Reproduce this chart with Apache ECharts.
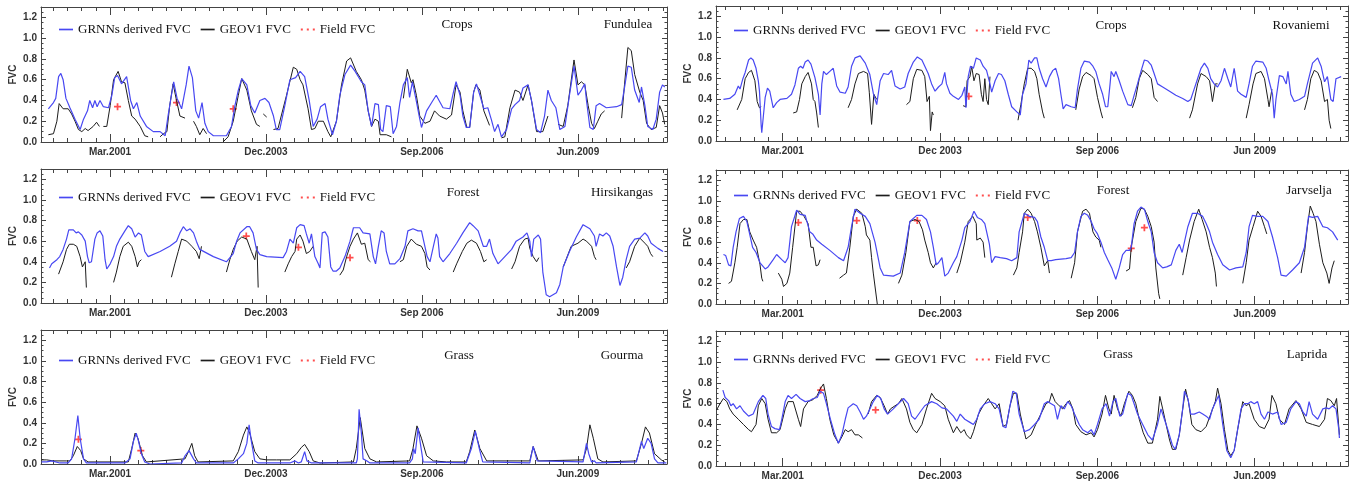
<!DOCTYPE html>
<html>
<head>
<meta charset="utf-8">
<script src="https://cdn.jsdelivr.net/npm/echarts@6/dist/echarts.min.js"></script>
<style>
  html, body { margin: 0; padding: 0; background: #fff; }
  #fvc { width: 1356px; height: 482px; }
</style>
</head>
<body>
<div id="fvc"></div>
<script>
// x = decimal year, y = FVC ; [year, null] breaks a line
const tickDates = [2001.167, 2003.917, 2006.667, 2009.417];

// ---- Fundulea (Crops)
const fundBlue = [[2000.08,0.32],[2000.17,0.38],[2000.21,0.42],[2000.26,0.63],[2000.30,0.66],[2000.34,0.60],[2000.39,0.42],[2000.46,0.33],[2000.55,0.22],[2000.64,0.12],[2000.70,0.22],[2000.77,0.30],[2000.81,0.40],[2000.86,0.33],[2000.90,0.40],[2000.94,0.34],[2000.99,0.40],[2001.05,0.34],[2001.14,0.33],[2001.20,0.45],[2001.25,0.62],[2001.30,0.64],[2001.37,0.56],[2001.46,0.63],[2001.53,0.40],[2001.58,0.32],[2001.64,0.38],[2001.70,0.25],[2001.81,0.15],[2001.93,0.10],[2002.05,0.10],[2002.14,0.06],[2002.19,0.25],[2002.25,0.45],[2002.29,0.58],[2002.35,0.42],[2002.43,0.32],[2002.51,0.55],[2002.56,0.73],[2002.62,0.62],[2002.68,0.30],[2002.73,0.23],[2002.79,0.38],[2002.84,0.18],[2002.90,0.10],[2002.99,0.06],[2003.11,0.06],[2003.22,0.06],[2003.31,0.15],[2003.37,0.35],[2003.43,0.50],[2003.49,0.61],[2003.58,0.55],[2003.65,0.35],[2003.72,0.28],[2003.81,0.40],[2003.90,0.42],[2003.97,0.38],[2004.05,0.25],[2004.10,0.12],[2004.16,0.12],[2004.25,0.35],[2004.34,0.60],[2004.44,0.62],[2004.52,0.68],[2004.60,0.63],[2004.68,0.40],[2004.75,0.15],[2004.82,0.22],[2004.88,0.34],[2004.96,0.37],[2005.01,0.22],[2005.09,0.07],[2005.16,0.20],[2005.22,0.45],[2005.31,0.65],[2005.41,0.74],[2005.49,0.68],[2005.60,0.58],[2005.66,0.55],[2005.72,0.30],[2005.78,0.15],[2005.84,0.37],[2005.90,0.36],[2005.94,0.12],[2005.98,0.10],[2006.04,0.35],[2006.11,0.34],[2006.16,0.08],[2006.22,0.15],[2006.28,0.38],[2006.34,0.55],[2006.41,0.62],[2006.45,0.43],[2006.50,0.58],[2006.56,0.42],[2006.62,0.25],[2006.66,0.14],[2006.75,0.30],[2006.84,0.38],[2006.92,0.45],[2006.97,0.40],[2007.04,0.33],[2007.16,0.32],[2007.22,0.47],[2007.27,0.58],[2007.34,0.45],[2007.39,0.25],[2007.45,0.14],[2007.51,0.14],[2007.58,0.48],[2007.63,0.56],[2007.69,0.45],[2007.76,0.32],[2007.83,0.33],[2007.89,0.22],[2007.95,0.10],[2008.01,0.17],[2008.07,0.05],[2008.16,0.12],[2008.25,0.32],[2008.31,0.36],[2008.39,0.40],[2008.45,0.52],[2008.54,0.55],[2008.60,0.40],[2008.69,0.12],[2008.76,0.09],[2008.83,0.25],[2008.89,0.50],[2008.95,0.40],[2009.03,0.33],[2009.10,0.12],[2009.19,0.15],[2009.27,0.45],[2009.35,0.73],[2009.42,0.45],[2009.48,0.50],[2009.54,0.56],[2009.57,0.40],[2009.63,0.14],[2009.69,0.12],[2009.74,0.35],[2009.80,0.37],[2009.92,0.33],[2010.10,0.34],[2010.19,0.36],[2010.24,0.52],[2010.30,0.73],[2010.36,0.72],[2010.42,0.50],[2010.50,0.38],[2010.54,0.53],[2010.60,0.35],[2010.65,0.15],[2010.74,0.12],[2010.80,0.22],[2010.86,0.48],[2010.91,0.55],[2010.95,0.53]];
const fundBlack = [[2000.08,0.07],[2000.17,0.08],[2000.23,0.20],[2000.27,0.37],[2000.34,0.32],[2000.43,0.32],[2000.49,0.27],[2000.55,0.20],[2000.61,0.12],[2000.67,0.10],[2000.73,0.13],[2000.78,0.11],[2000.87,0.15],[2000.93,0.19],[2000.98,0.15],[2001.01,null],[2001.05,0.15],[2001.11,0.15],[2001.17,0.35],[2001.23,0.60],[2001.31,0.68],[2001.37,0.58],[2001.43,0.57],[2001.49,0.40],[2001.55,0.25],[2001.61,0.22],[2001.70,0.15],[2001.78,0.06],[2001.84,0.05],[2001.95,null],[2002.05,0.05],[2002.11,0.08],[2002.17,0.10],[2002.22,0.35],[2002.28,0.56],[2002.34,0.40],[2002.40,0.25],[2002.49,0.23],[2002.55,null],[2002.64,0.20],[2002.69,0.15],[2002.75,0.07],[2002.81,0.13],[2002.87,0.08],[2003.00,null],[2003.16,0.00],[2003.25,0.05],[2003.34,0.20],[2003.43,0.45],[2003.49,0.61],[2003.58,0.50],[2003.66,0.30],[2003.75,0.17],[2003.81,0.15],[2003.84,null],[2003.87,0.27],[2003.93,0.24],[2003.99,null],[2004.05,0.12],[2004.13,0.13],[2004.28,0.45],[2004.40,0.72],[2004.46,0.70],[2004.52,0.60],[2004.57,0.55],[2004.66,0.32],[2004.72,0.12],[2004.78,0.13],[2004.84,0.20],[2004.93,0.20],[2005.01,0.10],[2005.06,0.05],[2005.16,0.20],[2005.25,0.55],[2005.34,0.78],[2005.41,0.81],[2005.51,0.68],[2005.60,0.60],[2005.66,0.50],[2005.72,0.30],[2005.78,0.15],[2005.84,0.22],[2005.90,0.20],[2005.93,0.07],[2006.04,0.07],[2006.13,0.05],[2006.25,null],[2006.34,0.42],[2006.41,0.70],[2006.48,0.57],[2006.51,0.60],[2006.57,0.45],[2006.63,0.25],[2006.72,0.18],[2006.81,0.20],[2006.89,0.30],[2006.98,0.25],[2007.10,0.22],[2007.19,0.26],[2007.27,0.55],[2007.34,0.48],[2007.39,0.30],[2007.46,0.14],[2007.51,0.14],[2007.58,0.48],[2007.62,0.55],[2007.69,0.50],[2007.76,0.30],[2007.86,0.16],[2007.95,null],[2008.07,0.04],[2008.13,0.05],[2008.22,0.33],[2008.31,0.50],[2008.39,0.48],[2008.45,0.40],[2008.54,0.55],[2008.60,0.40],[2008.69,0.10],[2008.80,0.10],[2008.89,0.25],[2008.98,null],[2009.07,0.17],[2009.16,0.15],[2009.24,0.35],[2009.35,0.79],[2009.42,0.55],[2009.48,0.58],[2009.54,0.55],[2009.60,0.35],[2009.66,0.18],[2009.71,0.13],[2009.77,0.20],[2009.83,0.27],[2009.89,0.30],[2010.05,null],[2010.19,0.23],[2010.24,0.55],[2010.30,0.91],[2010.36,0.88],[2010.42,0.65],[2010.51,0.48],[2010.57,0.40],[2010.63,0.18],[2010.71,0.12],[2010.80,0.14],[2010.86,0.35],[2010.91,0.28],[2010.95,0.17]];
const fundField = [[2001.30,0.34],[2002.34,0.38],[2003.34,0.32]];

// ---- Rovaniemi (Crops)
const rovBlue = [[2000.13,0.40],[2000.24,0.41],[2000.33,0.45],[2000.39,0.53],[2000.42,0.50],[2000.47,0.60],[2000.51,0.66],[2000.57,0.78],[2000.61,0.80],[2000.65,0.78],[2000.70,0.70],[2000.74,0.58],[2000.76,0.48],[2000.79,0.15],[2000.80,0.08],[2000.83,0.25],[2000.86,0.42],[2000.90,0.51],[2000.94,0.48],[2001.00,0.32],[2001.06,0.37],[2001.12,0.40],[2001.24,0.41],[2001.32,0.45],[2001.38,0.54],[2001.44,0.70],[2001.48,0.72],[2001.52,0.70],[2001.56,0.76],[2001.61,0.78],[2001.66,0.74],[2001.73,0.61],[2001.79,0.45],[2001.82,0.25],[2001.85,0.55],[2001.88,0.67],[2001.93,0.64],[2001.99,0.67],[2002.05,0.70],[2002.11,0.53],[2002.17,0.47],[2002.26,0.46],[2002.31,0.52],[2002.37,0.72],[2002.43,0.80],[2002.52,0.82],[2002.61,0.75],[2002.69,0.64],[2002.75,0.46],[2002.81,0.35],[2002.87,0.58],[2002.93,0.65],[2003.01,0.64],[2003.07,0.68],[2003.13,0.53],[2003.22,0.50],[2003.30,0.52],[2003.36,0.65],[2003.45,0.76],[2003.52,0.81],[2003.60,0.78],[2003.71,0.65],[2003.77,0.55],[2003.83,0.48],[2003.89,0.52],[2003.95,0.55],[2004.00,0.66],[2004.03,0.55],[2004.09,0.46],[2004.15,0.43],[2004.24,0.40],[2004.30,0.44],[2004.35,0.52],[2004.37,0.32],[2004.41,0.62],[2004.45,0.72],[2004.50,0.70],[2004.55,0.80],[2004.62,0.78],[2004.67,0.72],[2004.73,0.68],[2004.79,0.55],[2004.82,0.47],[2004.88,0.58],[2004.94,0.65],[2004.99,0.64],[2005.05,0.58],[2005.11,0.45],[2005.17,0.33],[2005.26,0.28],[2005.32,0.25],[2005.36,0.45],[2005.42,0.55],[2005.47,0.78],[2005.51,0.75],[2005.57,0.80],[2005.61,0.80],[2005.65,0.70],[2005.71,0.60],[2005.77,0.52],[2005.83,0.62],[2005.89,0.68],[2005.94,0.70],[2005.99,0.60],[2006.03,0.45],[2006.07,0.31],[2006.12,0.35],[2006.21,0.33],[2006.28,0.32],[2006.32,0.50],[2006.38,0.70],[2006.44,0.77],[2006.53,0.76],[2006.59,0.72],[2006.64,0.67],[2006.70,0.55],[2006.76,0.45],[2006.81,0.33],[2006.85,0.33],[2006.89,0.55],[2006.91,0.67],[2006.96,0.62],[2006.99,0.67],[2007.05,0.58],[2007.11,0.48],[2007.20,0.35],[2007.26,0.34],[2007.31,0.44],[2007.37,0.55],[2007.43,0.67],[2007.49,0.78],[2007.55,0.77],[2007.61,0.73],[2007.66,0.65],[2007.72,0.55],[2007.81,0.52],[2007.93,0.48],[2008.04,0.44],[2008.16,0.41],[2008.25,0.38],[2008.30,0.40],[2008.36,0.50],[2008.42,0.60],[2008.48,0.70],[2008.54,0.75],[2008.60,0.70],[2008.65,0.60],[2008.71,0.55],[2008.77,0.52],[2008.83,0.58],[2008.89,0.70],[2008.95,0.60],[2009.00,0.52],[2009.06,0.70],[2009.12,0.48],[2009.18,0.45],[2009.27,0.42],[2009.32,0.55],[2009.38,0.72],[2009.44,0.77],[2009.56,0.76],[2009.62,0.70],[2009.67,0.58],[2009.73,0.45],[2009.76,0.22],[2009.79,0.40],[2009.85,0.63],[2009.91,0.62],[2009.97,0.55],[2010.00,0.67],[2010.05,0.45],[2010.11,0.38],[2010.20,0.40],[2010.29,0.43],[2010.34,0.55],[2010.43,0.75],[2010.52,0.80],[2010.58,0.72],[2010.64,0.57],[2010.69,0.62],[2010.75,0.40],[2010.79,0.38],[2010.84,0.60],[2010.93,0.62]];
const rovBlack = [[2000.37,0.30],[2000.45,0.40],[2000.51,0.60],[2000.57,0.66],[2000.62,0.68],[2000.68,0.58],[2000.72,0.38],[2000.76,0.32],[2000.79,0.33],[2000.90,null],[2001.35,0.27],[2001.41,0.28],[2001.46,0.40],[2001.50,0.55],[2001.56,0.62],[2001.61,0.66],[2001.67,0.55],[2001.70,0.40],[2001.73,0.38],[2001.76,0.27],[2001.79,0.13],[2001.90,null],[2002.31,0.32],[2002.37,0.40],[2002.43,0.55],[2002.49,0.65],[2002.58,0.67],[2002.65,0.65],[2002.68,0.47],[2002.72,0.16],[2002.76,0.45],[2002.81,0.40],[2002.90,null],[2003.33,0.35],[2003.39,0.38],[2003.45,0.60],[2003.51,0.69],[2003.60,0.68],[2003.65,0.62],[2003.69,0.38],[2003.73,0.43],[2003.75,0.10],[2003.78,0.28],[2003.80,0.25],[2003.90,null],[2004.32,0.34],[2004.37,0.33],[2004.39,0.58],[2004.44,0.62],[2004.47,0.72],[2004.51,0.58],[2004.55,0.65],[2004.60,0.64],[2004.64,0.45],[2004.67,0.38],[2004.70,0.60],[2004.73,0.40],[2004.76,0.35],[2004.79,0.62],[2004.90,null],[2005.28,0.20],[2005.33,0.35],[2005.39,0.55],[2005.45,0.70],[2005.51,0.70],[2005.57,0.67],[2005.61,0.60],[2005.65,0.45],[2005.71,0.28],[2005.74,0.22],[2005.90,null],[2006.29,0.30],[2006.35,0.50],[2006.41,0.62],[2006.47,0.66],[2006.56,0.63],[2006.61,0.60],[2006.67,0.42],[2006.73,0.28],[2006.76,0.22],[2006.90,null],[2007.28,0.32],[2007.34,0.42],[2007.40,0.60],[2007.46,0.68],[2007.55,0.64],[2007.61,0.60],[2007.66,0.42],[2007.72,0.38],[2007.90,null],[2008.28,0.22],[2008.33,0.30],[2008.42,0.55],[2008.48,0.65],[2008.57,0.62],[2008.63,0.58],[2008.68,0.38],[2008.73,0.55],[2008.77,0.55],[2008.90,null],[2009.27,0.22],[2009.32,0.35],[2009.39,0.55],[2009.44,0.65],[2009.53,0.67],[2009.59,0.60],[2009.65,0.40],[2009.67,0.33],[2009.72,0.50],[2009.90,null],[2010.29,0.30],[2010.34,0.40],[2010.40,0.60],[2010.46,0.68],[2010.52,0.66],[2010.58,0.58],[2010.64,0.38],[2010.69,0.40],[2010.72,0.20],[2010.75,0.12]];
const rovField = [[2004.42,0.43]];

// ---- Hirsikangas (Forest)
const hirBlue = [[2000.10,0.34],[2000.14,0.38],[2000.23,0.42],[2000.28,0.45],[2000.34,0.52],[2000.40,0.62],[2000.44,0.71],[2000.52,0.71],[2000.57,0.68],[2000.61,0.69],[2000.67,0.66],[2000.73,0.60],[2000.77,0.45],[2000.80,0.39],[2000.84,0.40],[2000.90,0.62],[2000.94,0.68],[2000.99,0.70],[2001.04,0.65],[2001.08,0.42],[2001.11,0.33],[2001.17,0.38],[2001.23,0.45],[2001.28,0.55],[2001.34,0.62],[2001.43,0.70],[2001.49,0.75],[2001.55,0.72],[2001.61,0.64],[2001.67,0.68],[2001.72,0.66],[2001.78,0.50],[2001.84,0.45],[2002.05,0.50],[2002.22,0.55],[2002.34,0.60],[2002.40,0.68],[2002.46,0.74],[2002.52,0.70],[2002.58,0.72],[2002.64,0.68],[2002.69,0.60],[2002.75,0.52],[2002.99,0.45],[2003.22,0.40],[2003.34,0.48],[2003.40,0.60],[2003.46,0.68],[2003.58,0.74],[2003.63,0.74],[2003.69,0.68],[2003.75,0.52],[2003.81,0.47],[2003.93,0.45],[2004.22,0.44],[2004.28,0.50],[2004.34,0.62],[2004.40,0.58],[2004.46,0.73],[2004.52,0.76],[2004.59,0.75],[2004.63,0.67],[2004.68,0.58],[2004.72,0.67],[2004.78,0.45],[2004.84,0.38],[2004.87,0.34],[2004.91,0.68],[2004.96,0.69],[2005.01,0.64],[2005.06,0.35],[2005.10,0.31],[2005.16,0.31],[2005.22,0.34],[2005.31,0.45],[2005.40,0.60],[2005.46,0.73],[2005.57,0.73],[2005.63,0.68],[2005.75,0.67],[2005.81,0.45],[2005.85,0.38],[2005.90,0.55],[2005.95,0.70],[2006.00,0.68],[2006.04,0.50],[2006.10,0.38],[2006.19,0.38],[2006.28,0.43],[2006.37,0.55],[2006.42,0.70],[2006.51,0.72],[2006.60,0.70],[2006.66,0.70],[2006.72,0.55],[2006.76,0.45],[2006.81,0.40],[2006.87,0.55],[2006.92,0.67],[2006.95,0.63],[2006.98,0.45],[2007.04,0.40],[2007.16,0.48],[2007.28,0.58],[2007.39,0.68],[2007.51,0.78],[2007.57,0.75],[2007.66,0.70],[2007.75,0.55],[2007.81,0.55],[2007.86,0.62],[2007.92,0.48],[2008.01,0.38],[2008.13,0.45],[2008.25,0.52],[2008.33,0.60],[2008.45,0.64],[2008.52,0.68],[2008.57,0.60],[2008.60,0.45],[2008.64,0.62],[2008.72,0.66],[2008.76,0.62],[2008.80,0.30],[2008.86,0.08],[2008.92,0.06],[2009.04,0.10],[2009.10,0.18],[2009.16,0.35],[2009.27,0.50],[2009.39,0.64],[2009.51,0.76],[2009.63,0.72],[2009.71,0.65],[2009.74,0.55],[2009.80,0.67],[2009.86,0.65],[2009.92,0.68],[2009.98,0.65],[2010.04,0.55],[2010.10,0.35],[2010.16,0.17],[2010.21,0.25],[2010.27,0.42],[2010.33,0.55],[2010.42,0.62],[2010.51,0.63],[2010.60,0.68],[2010.65,0.65],[2010.71,0.58],[2010.83,0.53],[2010.92,0.50]];
const hirBlack = [[2000.26,0.28],[2000.28,0.27],[2000.34,0.40],[2000.40,0.52],[2000.45,0.57],[2000.52,0.57],[2000.58,0.55],[2000.64,0.45],[2000.68,0.35],[2000.73,0.40],[2000.75,0.15],[2000.90,null],[2001.23,0.20],[2001.28,0.30],[2001.34,0.45],[2001.40,0.55],[2001.49,0.59],[2001.55,0.55],[2001.61,0.45],[2001.65,0.35],[2001.68,0.40],[2001.72,0.42],[2001.90,null],[2002.25,0.25],[2002.31,0.38],[2002.37,0.50],[2002.43,0.62],[2002.52,0.60],[2002.61,0.55],[2002.69,0.50],[2002.74,0.43],[2002.78,0.55],[2002.90,null],[2003.22,0.30],[2003.28,0.42],[2003.34,0.52],[2003.41,0.60],[2003.49,0.64],[2003.58,0.62],[2003.66,0.50],[2003.72,0.42],[2003.76,0.55],[2003.78,0.15],[2003.90,null],[2004.25,0.30],[2004.31,0.38],[2004.37,0.45],[2004.43,0.50],[2004.46,0.62],[2004.52,0.66],[2004.57,0.60],[2004.63,0.48],[2004.69,0.50],[2004.75,0.55],[2004.90,null],[2005.22,0.27],[2005.28,0.32],[2005.34,0.45],[2005.40,0.55],[2005.46,0.62],[2005.53,0.68],[2005.60,0.57],[2005.66,0.58],[2005.72,0.42],[2005.76,0.40],[2005.90,null],[2006.28,0.40],[2006.34,0.42],[2006.40,0.55],[2006.48,0.62],[2006.57,0.57],[2006.66,0.55],[2006.72,0.48],[2006.76,0.35],[2006.81,0.32],[2006.90,null],[2007.22,0.30],[2007.28,0.38],[2007.38,0.50],[2007.46,0.58],[2007.54,0.61],[2007.63,0.58],[2007.70,0.50],[2007.76,0.40],[2007.81,0.42],[2007.90,null],[2008.25,0.33],[2008.31,0.40],[2008.39,0.55],[2008.48,0.62],[2008.54,0.63],[2008.57,0.53],[2008.63,0.45],[2008.69,0.40],[2008.73,0.44],[2008.90,null],[2009.16,0.35],[2009.23,0.45],[2009.30,0.55],[2009.42,0.58],[2009.51,0.62],[2009.57,0.60],[2009.66,0.55],[2009.71,0.45],[2009.74,0.42],[2009.90,null],[2010.27,0.34],[2010.33,0.40],[2010.42,0.55],[2010.51,0.63],[2010.60,0.58],[2010.65,0.55],[2010.70,0.48],[2010.74,0.45]];
const hirField = [[2003.57,0.65],[2004.49,0.54],[2005.40,0.44]];

// ---- Jarvselja (Forest)
const jarBlue = [[2000.13,0.48],[2000.17,0.47],[2000.22,0.38],[2000.26,0.37],[2000.30,0.55],[2000.35,0.70],[2000.41,0.83],[2000.48,0.85],[2000.54,0.80],[2000.58,0.70],[2000.64,0.55],[2000.70,0.50],[2000.77,0.40],[2000.86,0.34],[2000.91,0.36],[2001.00,0.43],[2001.06,0.48],[2001.15,0.43],[2001.21,0.40],[2001.26,0.45],[2001.32,0.75],[2001.41,0.91],[2001.47,0.87],[2001.56,0.86],[2001.64,0.70],[2001.69,0.68],[2001.76,0.62],[2001.85,0.58],[2001.99,0.52],[2002.14,0.45],[2002.23,0.42],[2002.31,0.55],[2002.37,0.75],[2002.43,0.92],[2002.52,0.88],[2002.61,0.85],[2002.69,0.78],[2002.78,0.60],[2002.87,0.35],[2002.93,0.28],[2003.10,0.27],[2003.22,0.30],[2003.30,0.50],[2003.39,0.80],[2003.51,0.86],[2003.60,0.86],[2003.68,0.82],[2003.75,0.70],[2003.80,0.55],[2003.85,0.38],[2003.89,0.40],[2003.95,0.45],[2004.00,0.27],[2004.06,0.30],[2004.15,0.40],[2004.21,0.46],[2004.30,0.62],[2004.35,0.74],[2004.44,0.80],[2004.51,0.90],[2004.57,0.84],[2004.64,0.82],[2004.70,0.78],[2004.78,0.58],[2004.82,0.40],[2004.88,0.46],[2004.97,0.45],[2005.08,0.44],[2005.17,0.42],[2005.26,0.45],[2005.30,0.70],[2005.39,0.88],[2005.48,0.85],[2005.57,0.84],[2005.62,0.80],[2005.68,0.65],[2005.74,0.55],[2005.80,0.42],[2005.86,0.42],[2005.94,0.43],[2006.12,0.44],[2006.21,0.45],[2006.27,0.50],[2006.32,0.70],[2006.38,0.85],[2006.44,0.88],[2006.50,0.86],[2006.56,0.80],[2006.61,0.73],[2006.67,0.68],[2006.73,0.60],[2006.79,0.50],[2006.85,0.43],[2006.92,0.35],[2006.99,0.24],[2007.05,0.35],[2007.11,0.48],[2007.17,0.52],[2007.23,0.52],[2007.26,0.55],[2007.31,0.78],[2007.37,0.90],[2007.43,0.94],[2007.49,0.92],[2007.55,0.80],[2007.61,0.70],[2007.66,0.50],[2007.72,0.40],[2007.81,0.35],[2007.88,0.36],[2007.96,0.38],[2008.04,0.52],[2008.10,0.58],[2008.15,0.50],[2008.19,0.60],[2008.25,0.75],[2008.33,0.88],[2008.42,0.88],[2008.51,0.85],[2008.57,0.78],[2008.63,0.70],[2008.68,0.60],[2008.77,0.48],[2008.86,0.38],[2008.98,0.33],[2009.09,0.35],[2009.21,0.36],[2009.27,0.50],[2009.32,0.75],[2009.38,0.86],[2009.47,0.85],[2009.56,0.85],[2009.65,0.80],[2009.73,0.65],[2009.82,0.45],[2009.88,0.28],[2009.97,0.27],[2010.08,0.33],[2010.20,0.40],[2010.29,0.55],[2010.36,0.85],[2010.43,0.84],[2010.52,0.85],[2010.61,0.75],[2010.69,0.74],[2010.78,0.70],[2010.87,0.62]];
const jarBlack = [[2000.22,0.20],[2000.27,0.22],[2000.33,0.40],[2000.37,0.55],[2000.42,0.78],[2000.48,0.82],[2000.54,0.82],[2000.59,0.70],[2000.65,0.62],[2000.71,0.55],[2000.77,0.38],[2000.80,0.25],[2000.82,0.22],[2000.95,null],[2001.09,0.30],[2001.15,0.24],[2001.18,0.17],[2001.24,0.20],[2001.29,0.30],[2001.34,0.55],[2001.41,0.90],[2001.47,0.90],[2001.54,0.85],[2001.61,0.78],[2001.66,0.55],[2001.70,0.55],[2001.75,0.37],[2001.79,0.38],[2001.82,0.43],[2002.00,null],[2002.16,0.25],[2002.23,0.28],[2002.28,0.30],[2002.34,0.55],[2002.40,0.85],[2002.46,0.92],[2002.55,0.88],[2002.61,0.75],[2002.63,0.67],[2002.69,0.62],[2002.72,0.45],[2002.75,0.30],[2002.82,0.00],[2003.00,null],[2003.19,0.20],[2003.25,0.28],[2003.32,0.50],[2003.39,0.80],[2003.48,0.82],[2003.55,0.80],[2003.61,0.72],[2003.65,0.62],[2003.71,0.50],[2003.75,0.40],[2003.80,0.35],[2003.85,0.40],[2004.00,null],[2004.21,0.30],[2004.27,0.40],[2004.35,0.60],[2004.41,0.80],[2004.49,0.85],[2004.55,0.78],[2004.56,0.62],[2004.62,0.64],[2004.67,0.60],[2004.70,0.45],[2004.90,null],[2005.20,0.28],[2005.26,0.35],[2005.30,0.50],[2005.36,0.70],[2005.39,0.88],[2005.45,0.92],[2005.51,0.88],[2005.57,0.80],[2005.62,0.70],[2005.68,0.55],[2005.74,0.37],[2005.80,0.42],[2005.83,0.30],[2006.00,null],[2006.21,0.25],[2006.27,0.40],[2006.32,0.70],[2006.41,0.90],[2006.47,0.92],[2006.53,0.88],[2006.59,0.70],[2006.64,0.65],[2006.70,0.62],[2006.73,0.55],[2006.90,null],[2007.17,0.32],[2007.23,0.34],[2007.26,0.55],[2007.34,0.80],[2007.43,0.93],[2007.49,0.92],[2007.55,0.85],[2007.61,0.75],[2007.66,0.60],[2007.69,0.35],[2007.74,0.10],[2007.76,0.05],[2007.90,null],[2008.16,0.28],[2008.22,0.45],[2008.28,0.62],[2008.36,0.80],[2008.44,0.92],[2008.50,0.82],[2008.57,0.70],[2008.63,0.55],[2008.68,0.45],[2008.73,0.30],[2008.75,0.17],[2008.90,null],[2009.21,0.20],[2009.27,0.40],[2009.32,0.62],[2009.39,0.75],[2009.47,0.90],[2009.53,0.85],[2009.59,0.75],[2009.63,0.68],[2009.90,null],[2010.23,0.30],[2010.29,0.50],[2010.34,0.75],[2010.39,0.95],[2010.44,0.88],[2010.49,0.80],[2010.55,0.58],[2010.61,0.40],[2010.68,0.30],[2010.72,0.20],[2010.77,0.35],[2010.81,0.42]];
const jarField = [[2001.44,0.79],[2002.46,0.81],[2003.52,0.81],[2005.45,0.84],[2007.26,0.54],[2007.49,0.74]];

// ---- Gourma (Grass)
const gouBlue = [[1999.96,0.02],[2000.05,0.02],[2000.14,0.03],[2000.17,0.02],[2000.28,0.01],[2000.43,0.01],[2000.49,0.05],[2000.55,0.25],[2000.60,0.47],[2000.64,0.25],[2000.70,0.05],[2000.75,0.01],[2001.43,0.01],[2001.52,0.05],[2001.58,0.22],[2001.63,0.30],[2001.67,0.22],[2001.72,0.10],[2001.78,0.02],[2001.87,0.00],[2002.43,0.01],[2002.49,0.08],[2002.56,0.13],[2002.64,0.05],[2002.69,0.01],[2003.34,0.01],[2003.43,0.05],[2003.52,0.10],[2003.58,0.20],[2003.62,0.38],[2003.66,0.22],[2003.72,0.03],[2003.78,0.01],[2004.34,0.01],[2004.43,0.03],[2004.49,0.01],[2004.54,0.02],[2004.60,0.12],[2004.64,0.03],[2004.72,0.01],[2005.51,0.01],[2005.53,0.05],[2005.56,0.53],[2005.60,0.30],[2005.63,0.05],[2005.66,0.04],[2005.70,0.03],[2005.75,0.01],[2006.45,0.01],[2006.50,0.05],[2006.52,0.15],[2006.55,0.10],[2006.60,0.35],[2006.64,0.20],[2006.69,0.02],[2007.45,0.01],[2007.54,0.15],[2007.61,0.32],[2007.68,0.15],[2007.74,0.02],[2008.57,0.01],[2008.63,0.17],[2008.70,0.03],[2009.51,0.02],[2009.57,0.20],[2009.61,0.10],[2009.66,0.02],[2009.71,0.03],[2009.74,0.01],[2010.45,0.02],[2010.54,0.22],[2010.58,0.15],[2010.65,0.25],[2010.71,0.20],[2010.77,0.05],[2010.83,0.01],[2010.98,0.01]];
const gouBlack = [[1999.96,0.04],[2000.05,0.04],[2000.17,0.03],[2000.40,0.03],[2000.46,0.03],[2000.52,0.08],[2000.59,0.17],[2000.65,0.13],[2000.70,0.05],[2000.78,0.02],[2001.49,0.02],[2001.55,0.15],[2001.61,0.30],[2001.66,0.25],[2001.74,0.08],[2001.81,0.02],[2002.49,0.05],[2002.55,0.12],[2002.61,0.20],[2002.66,0.08],[2002.72,0.02],[2003.34,0.03],[2003.43,0.12],[2003.52,0.28],[2003.58,0.36],[2003.63,0.30],[2003.72,0.12],[2003.81,0.05],[2003.93,0.04],[2004.10,0.04],[2004.34,0.04],[2004.46,0.10],[2004.54,0.16],[2004.60,0.19],[2004.68,0.12],[2004.75,0.03],[2004.87,0.01],[2005.46,0.02],[2005.51,0.15],[2005.58,0.45],[2005.66,0.15],[2005.75,0.05],[2005.87,0.02],[2006.45,0.03],[2006.51,0.15],[2006.58,0.37],[2006.66,0.25],[2006.75,0.08],[2006.87,0.03],[2007.10,0.02],[2007.45,0.02],[2007.51,0.12],[2007.60,0.33],[2007.69,0.15],[2007.81,0.03],[2008.57,0.03],[2008.63,0.17],[2008.72,0.03],[2009.51,0.04],[2009.57,0.15],[2009.63,0.38],[2009.69,0.25],[2009.77,0.05],[2009.86,0.02],[2010.45,0.03],[2010.54,0.20],[2010.61,0.36],[2010.68,0.30],[2010.77,0.10],[2010.89,0.04],[2010.95,0.02]];
const gouField = [[2000.61,0.24],[2001.71,0.13]];

// ---- Laprida (Grass)
const lapBlue = [[2000.12,0.73],[2000.16,0.66],[2000.22,0.63],[2000.26,0.58],[2000.30,0.60],[2000.36,0.55],[2000.42,0.58],[2000.48,0.53],[2000.57,0.48],[2000.65,0.50],[2000.74,0.62],[2000.82,0.68],[2000.87,0.65],[2000.91,0.50],[2000.97,0.38],[2001.03,0.36],[2001.11,0.35],[2001.15,0.45],[2001.21,0.62],[2001.26,0.68],[2001.32,0.65],[2001.40,0.69],[2001.47,0.65],[2001.56,0.62],[2001.64,0.63],[2001.70,0.65],[2001.77,0.66],[2001.82,0.72],[2001.88,0.70],[2001.93,0.60],[2002.00,0.45],[2002.08,0.30],[2002.14,0.22],[2002.20,0.30],[2002.26,0.45],[2002.31,0.56],[2002.40,0.60],[2002.46,0.58],[2002.52,0.52],[2002.58,0.45],[2002.63,0.48],[2002.69,0.55],[2002.75,0.62],[2002.82,0.68],[2002.88,0.65],[2002.94,0.55],[2003.00,0.50],[2003.10,0.55],[2003.19,0.60],[2003.28,0.65],[2003.36,0.60],[2003.42,0.48],[2003.48,0.45],[2003.57,0.52],[2003.65,0.58],[2003.77,0.62],[2003.86,0.60],[2003.95,0.56],[2004.03,0.55],[2004.15,0.48],[2004.21,0.43],[2004.27,0.50],[2004.35,0.45],[2004.44,0.42],[2004.50,0.40],[2004.56,0.45],[2004.62,0.55],[2004.70,0.60],[2004.79,0.62],[2004.88,0.60],[2004.95,0.55],[2005.02,0.38],[2005.07,0.37],[2005.13,0.55],[2005.19,0.72],[2005.25,0.70],[2005.30,0.50],[2005.39,0.33],[2005.48,0.35],[2005.57,0.40],[2005.65,0.45],[2005.74,0.60],[2005.80,0.62],[2005.86,0.60],[2005.92,0.58],[2005.97,0.45],[2006.03,0.58],[2006.09,0.55],[2006.15,0.62],[2006.21,0.58],[2006.27,0.50],[2006.35,0.40],[2006.41,0.35],[2006.50,0.32],[2006.56,0.35],[2006.61,0.30],[2006.67,0.40],[2006.75,0.55],[2006.82,0.60],[2006.88,0.48],[2006.94,0.62],[2006.99,0.65],[2007.06,0.48],[2007.11,0.50],[2007.20,0.70],[2007.26,0.68],[2007.31,0.60],[2007.37,0.50],[2007.46,0.40],[2007.55,0.30],[2007.63,0.25],[2007.72,0.40],[2007.78,0.55],[2007.84,0.45],[2007.90,0.35],[2007.98,0.20],[2008.03,0.16],[2008.10,0.30],[2008.16,0.55],[2008.19,0.72],[2008.25,0.65],[2008.30,0.50],[2008.36,0.50],[2008.45,0.52],[2008.51,0.50],[2008.57,0.48],[2008.63,0.45],[2008.68,0.55],[2008.74,0.62],[2008.79,0.68],[2008.86,0.40],[2008.93,0.15],[2009.00,0.08],[2009.06,0.15],[2009.12,0.35],[2009.18,0.55],[2009.24,0.60],[2009.30,0.60],[2009.35,0.62],[2009.41,0.60],[2009.47,0.62],[2009.53,0.50],[2009.59,0.45],[2009.65,0.52],[2009.73,0.50],[2009.82,0.52],[2009.88,0.40],[2009.97,0.42],[2010.05,0.55],[2010.14,0.62],[2010.20,0.60],[2010.26,0.52],[2010.32,0.48],[2010.37,0.62],[2010.43,0.50],[2010.52,0.45],[2010.61,0.55],[2010.67,0.56],[2010.72,0.55],[2010.78,0.58],[2010.84,0.55],[2010.89,0.35],[2010.90,0.27]];
const lapBlack = [[2000.01,0.54],[2000.07,0.60],[2000.13,0.65],[2000.19,0.62],[2000.24,0.55],[2000.30,0.50],[2000.39,0.45],[2000.48,0.40],[2000.57,0.35],[2000.62,0.33],[2000.70,0.40],[2000.74,0.58],[2000.80,0.65],[2000.86,0.60],[2000.91,0.45],[2000.97,0.32],[2001.06,0.32],[2001.12,0.35],[2001.21,0.55],[2001.26,0.62],[2001.35,0.62],[2001.44,0.45],[2001.48,0.38],[2001.53,0.55],[2001.61,0.62],[2001.70,0.64],[2001.77,0.68],[2001.83,0.75],[2001.88,0.79],[2001.93,0.65],[2001.99,0.45],[2002.06,0.30],[2002.14,0.22],[2002.20,0.28],[2002.26,0.35],[2002.31,0.33],[2002.37,0.35],[2002.43,0.30],[2002.49,0.30],[2002.56,0.27],[2002.61,null],[2002.66,0.50],[2002.72,0.62],[2002.81,0.68],[2002.87,0.66],[2002.94,0.58],[2003.00,0.50],[2003.05,0.55],[2003.13,0.58],[2003.19,0.60],[2003.25,0.65],[2003.33,0.55],[2003.39,0.42],[2003.45,0.35],[2003.51,0.32],[2003.60,0.40],[2003.68,0.55],[2003.77,0.70],[2003.83,0.65],[2003.92,0.62],[2004.00,0.58],[2004.06,0.45],[2004.15,0.32],[2004.21,0.38],[2004.28,0.32],[2004.34,0.35],[2004.38,0.30],[2004.45,0.26],[2004.50,0.33],[2004.59,0.50],[2004.67,0.58],[2004.76,0.65],[2004.82,0.60],[2004.88,0.55],[2004.95,0.60],[2005.02,0.38],[2005.08,0.40],[2005.14,0.58],[2005.20,0.70],[2005.26,0.70],[2005.32,0.50],[2005.36,0.40],[2005.42,0.26],[2005.51,0.30],[2005.59,0.40],[2005.68,0.50],[2005.77,0.60],[2005.83,0.62],[2005.87,0.70],[2005.93,0.62],[2006.00,0.58],[2006.06,0.55],[2006.12,0.60],[2006.18,0.63],[2006.24,0.55],[2006.29,0.40],[2006.38,0.33],[2006.47,0.30],[2006.56,0.32],[2006.61,0.28],[2006.67,0.35],[2006.75,0.50],[2006.81,0.68],[2006.87,0.55],[2006.91,0.50],[2006.96,0.68],[2007.02,0.55],[2007.08,0.48],[2007.14,0.60],[2007.22,0.72],[2007.28,0.68],[2007.34,0.60],[2007.40,0.45],[2007.47,0.32],[2007.55,0.22],[2007.63,0.22],[2007.72,0.45],[2007.76,0.67],[2007.81,0.55],[2007.87,0.40],[2007.93,0.25],[2007.98,0.16],[2008.04,0.16],[2008.10,0.30],[2008.16,0.55],[2008.21,0.74],[2008.26,0.62],[2008.32,0.40],[2008.39,0.35],[2008.48,0.33],[2008.57,0.38],[2008.65,0.50],[2008.73,0.62],[2008.77,0.75],[2008.83,0.60],[2008.89,0.35],[2008.95,0.15],[2009.00,0.10],[2009.06,0.15],[2009.12,0.35],[2009.21,0.62],[2009.27,0.58],[2009.32,0.60],[2009.41,0.45],[2009.50,0.38],[2009.59,0.36],[2009.67,0.45],[2009.72,0.68],[2009.79,0.60],[2009.85,0.45],[2009.94,0.40],[2010.02,0.55],[2010.14,0.63],[2010.23,0.55],[2010.32,0.42],[2010.43,0.40],[2010.55,0.38],[2010.64,0.45],[2010.69,0.65],[2010.75,0.63],[2010.81,0.58],[2010.85,0.65],[2010.90,0.30]];
const lapField = [[2001.83,0.73],[2002.79,0.54]];

const panels = [
  { blue: fundBlue, black: fundBlack, field: fundField, cls: 'Crops', site: 'Fundulea', ticks: ['Mar.2001', 'Dec.2003', 'Sep.2006', 'Jun.2009'] },
  { blue: rovBlue, black: rovBlack, field: rovField, cls: 'Crops', site: 'Rovaniemi', ticks: ['Mar.2001', 'Dec 2003', 'Sep 2006', 'Jun 2009'] },
  { blue: hirBlue, black: hirBlack, field: hirField, cls: 'Forest', site: 'Hirsikangas', ticks: ['Mar.2001', 'Dec.2003', 'Sep 2006', 'Jun.2009'] },
  { blue: jarBlue, black: jarBlack, field: jarField, cls: 'Forest', site: 'Jarvselja', ticks: ['Mar.2001', 'Dec.2003', 'Sep 2006', 'Jun.2009'] },
  { blue: gouBlue, black: gouBlack, field: gouField, cls: 'Grass', site: 'Gourma', ticks: ['Mar.2001', 'Dec.2003', 'Sep.2006', 'Jun.2009'] },
  { blue: lapBlue, black: lapBlack, field: lapField, cls: 'Grass', site: 'Laprida', ticks: ['Mar.2001', 'Dec.2003', 'Sep.2006', 'Jun.2009'] }
];

// 面板位置 (px)
const boxes = [
  { left: 41, top: 7, width: 626, height: 135, x0: 1999.95, x1: 2010.99, legY: 25, clsX: 457, siteX: 628 },
  { left: 716, top: 6, width: 632, height: 135, x0: 2000.0, x1: 2011.05, legY: 26, clsX: 1111, siteX: 1301 },
  { left: 41, top: 169, width: 626, height: 134, x0: 1999.95, x1: 2010.99, legY: 193, clsX: 463, siteX: 622 },
  { left: 716, top: 170, width: 632, height: 134, x0: 2000.0, x1: 2011.05, legY: 191, clsX: 1113, siteX: 1309 },
  { left: 41, top: 330, width: 626, height: 134, x0: 1999.95, x1: 2010.99, legY: 356, clsX: 459, siteX: 622 },
  { left: 716, top: 331, width: 632, height: 135, x0: 2000.0, x1: 2011.05, legY: 355, clsX: 1118, siteX: 1307 }
];

const BLUE = '#4848f2';
const BLACK = '#1c1c1c';
const RED = '#ff2020';
const AXIS = '#444';
const labelFont = { fontFamily: 'Liberation Sans', fontSize: 10, fontWeight: 'bold', color: '#333' };
const plusIcon = 'path://M3,0H5V3H8V5H5V8H3V5H0V3H3Z';
const lineIcon = 'path://M0,0H20V2.4H0Z';

const chart = echarts.init(document.getElementById('fvc'));

const grid = [], xAxis = [], yAxis = [], series = [], legend = [], graphic = [];

panels.forEach((p, i) => {
  const b = boxes[i];
  grid.push({ left: b.left, top: b.top, width: b.width, height: b.height, containLabel: false });

  // 次刻度: 每 3 个月
  const minor = [];
  for (let t = tickDates[0] - 0.25 * 8; t <= b.x1; t += 0.25) {
    if (t >= b.x0) minor.push(+t.toFixed(4));
  }
  const base = { gridIndex: i, type: 'value', min: b.x0, max: b.x1, splitLine: { show: false } };
  const line = { show: true, onZero: false, lineStyle: { color: AXIS, width: 1 } };
  const xi = xAxis.length;
  xAxis.push({
    ...base, position: 'bottom', axisLine: line,
    axisTick: { show: true, inside: true, length: 4, customValues: minor, lineStyle: { color: AXIS } },
    axisLabel: {
      show: true, margin: 5, customValues: tickDates, ...labelFont,
      formatter: v => {
        const k = tickDates.findIndex(d => Math.abs(d - v) < 0.01);
        return k < 0 ? '' : p.ticks[k];
      }
    }
  });
  xAxis.push({ ...base, position: 'bottom', axisLine: { show: false, onZero: false },
    axisTick: { show: true, inside: true, length: 8, customValues: tickDates, lineStyle: { color: AXIS } },
    axisLabel: { show: false } });
  xAxis.push({ ...base, position: 'top', axisLine: line,
    axisTick: { show: true, inside: true, length: 4, customValues: minor, lineStyle: { color: AXIS } },
    axisLabel: { show: false } });
  xAxis.push({ ...base, position: 'top', axisLine: { show: false, onZero: false },
    axisTick: { show: true, inside: true, length: 8, customValues: tickDates, lineStyle: { color: AXIS } },
    axisLabel: { show: false } });

  const yBase = { gridIndex: i, type: 'value', min: 0, max: 1.3, interval: 0.2, splitLine: { show: false },
    axisLine: line,
    axisTick: { show: true, inside: true, length: 5, lineStyle: { color: AXIS } },
    minorTick: { show: true, splitNumber: 4, length: 2.5, lineStyle: { color: AXIS } } };
  const yi = yAxis.length;
  yAxis.push({ ...yBase, position: 'left', name: 'FVC', nameLocation: 'middle', nameGap: 23,
    nameTextStyle: { ...labelFont },
    axisLabel: { margin: 4, ...labelFont, formatter: v => (v > 1.25 ? '' : v.toFixed(1)) } });
  yAxis.push({ ...yBase, position: 'right', axisLabel: { show: false } });

  series.push({ name: 'GEOV1 FVC', type: 'line', xAxisIndex: xi, yAxisIndex: yi, data: p.black,
    showSymbol: false, connectNulls: false, color: BLACK, lineStyle: { color: BLACK, width: 1 }, silent: true });
  series.push({ name: 'GRNNs derived FVC', type: 'line', xAxisIndex: xi, yAxisIndex: yi, data: p.blue,
    showSymbol: false, connectNulls: false, color: BLUE, lineStyle: { color: BLUE, width: 1.2 }, silent: true });
  series.push({ name: 'Field FVC', type: 'scatter', xAxisIndex: xi, yAxisIndex: yi, data: p.field,
    symbol: plusIcon, symbolSize: 7, color: RED, silent: true });

  legend.push({
    left: b.left + 13, top: b.legY - 7, itemWidth: 14, itemHeight: 14, itemGap: 10, selectedMode: false,
    textStyle: { fontFamily: 'Liberation Serif', fontSize: 13, color: '#111' },
    data: [
      { name: 'GRNNs derived FVC', icon: lineIcon },
      { name: 'GEOV1 FVC', icon: lineIcon },
      { name: 'Field FVC', icon: 'path://M0,0H2V2H0ZM6,0H8V2H6ZM12,0H14V2H12Z' }
    ]
  });

  const tStyle = { font: '13px "Liberation Serif"', fill: '#111', align: 'center', verticalAlign: 'middle' };
  graphic.push({ type: 'text', x: b.clsX, y: b.legY, style: { ...tStyle, text: p.cls } });
  graphic.push({ type: 'text', x: b.siteX, y: b.legY, style: { ...tStyle, text: p.site } });
});

chart.setOption({
  animation: false,
  backgroundColor: '#fff',
  grid, xAxis, yAxis, series, legend, graphic
});
</script>
</body>
</html>
